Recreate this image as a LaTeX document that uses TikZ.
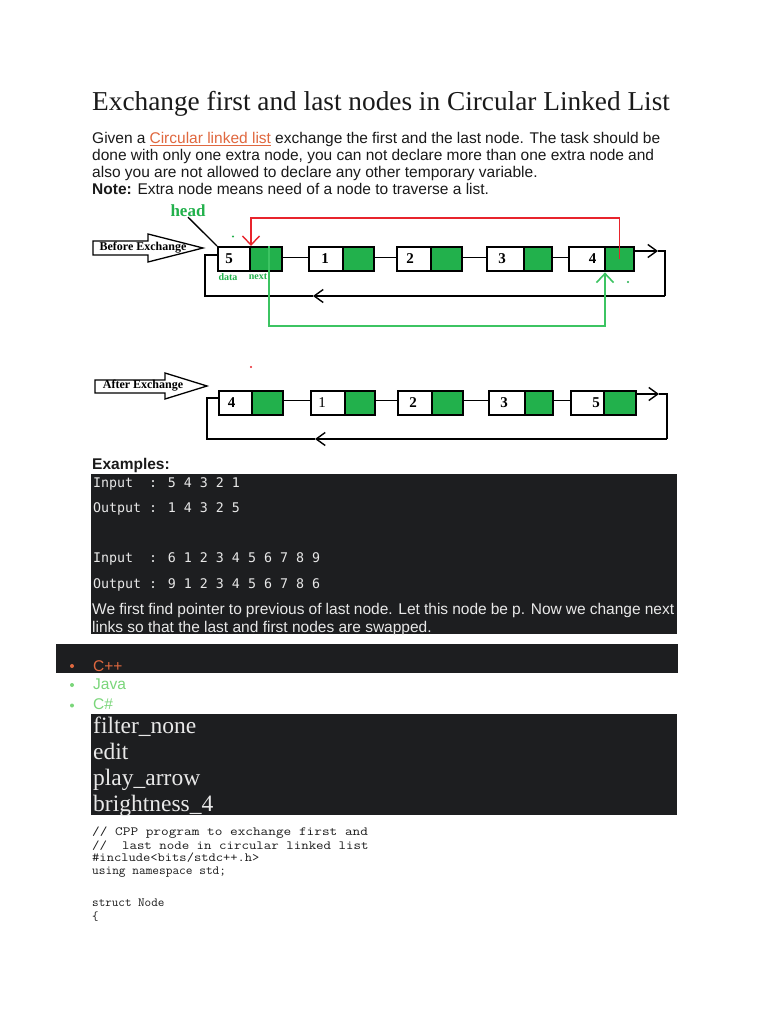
\documentclass[tikz,border=0pt]{standalone}
\usepackage{fontspec}
\setmainfont{Liberation Serif}
\setsansfont{Liberation Sans}
\newfontfamily\djmono{DejaVu Sans Mono}
\usetikzlibrary{arrows.meta}
\definecolor{pgreen}{HTML}{22B14C}
\definecolor{lgreen}{HTML}{3CC462}
\definecolor{pred}{HTML}{E8242C}
\definecolor{darkbg}{HTML}{1D1E20}
\definecolor{boxtxt}{HTML}{E8E8E8}
\definecolor{linkc}{HTML}{E0683F}
\definecolor{bulgreen}{HTML}{7AD67A}
\definecolor{bodytxt}{HTML}{1A1A1A}
\newcommand\lnode[6]{%
  \node[cellw, minimum width={(#3-#2)*1pt}, minimum height={#6*1pt}] (#1d) at (#2,#5) {};
  \node[cellg, minimum width={(#4-#3)*1pt}, minimum height={#6*1pt}] (#1n) at (#3,#5) {};
}
\begin{document}
\begin{tikzpicture}[x=1pt,y=-1pt,
  cellw/.style={draw=black, line width=2.4pt, fill=white, inner sep=0pt, anchor=north west},
  cellg/.style={cellw, fill=pgreen},
  link/.style={draw=black, line width=1.4pt},
  tipb/.style={-{Straight Barb[length=9pt,width=13pt]}},
  num/.style={font=\bfseries\fontsize{15}{15}\selectfont, inner sep=0pt},
  numr/.style={font=\fontsize{15}{15}\selectfont, inner sep=0pt},
  body/.style={font=\sffamily\fontsize{15.5}{17}\selectfont, inner sep=0pt, anchor=base west, text=bodytxt},
  boxt/.style={body, text=boxtxt},
  mono/.style={font=\djmono\fontsize{13.3}{15}\selectfont, inner sep=0pt, anchor=base west, text=boxtxt},
  icon/.style={font=\fontsize{23.5}{25}\selectfont, inner sep=0pt, anchor=base west, text=boxtxt},
  code/.style={font=\ttfamily\fontsize{12.5}{13}\selectfont, inner sep=0pt, anchor=base west, text=bodytxt},
  hollow/.style={draw=black, line width=1.3pt, fill=white},
  hlab/.style={font=\bfseries\fontsize{12}{12}\selectfont, inner sep=0pt},
  glab/.style={font=\bfseries\fontsize{10}{10}\selectfont, inner sep=0pt, text=pgreen},
]
\useasboundingbox (0,0) rectangle (768,1024);
\fill[white] (0,0) rectangle (768,1024);

% ---------- title and intro ----------
\node[anchor=base west, inner sep=0pt, font=\fontsize{27.3}{28}\selectfont, text=bodytxt] (title) at (92,111) {Exchange first and last nodes in Circular Linked List};
\node[body] (l1) at (92,144) {\makebox[568pt][s]{Given a \textcolor{linkc}{\underline{Circular linked list}} exchange the first and the last node. The task should be}};
\node[body] (l2) at (92,161) {\makebox[562pt][s]{done with only one extra node, you can not declare more than one extra node and}};
\node[body] (l3) at (92,177.5) {also you are not allowed to declare any other temporary variable.};
\node[body] (l4) at (92,194.5) {\textbf{Note:} Extra node means need of a node to traverse a list.};

% ---------- before exchange ----------
\draw[hollow] (93,241) -- (148,241) -- (148,234) -- (203,248) -- (148,262) -- (148,255) -- (93,255) -- cycle;
\node[hlab] (bex) at (143,248) {Before Exchange};

\coordinate (bt) at (658,251);
\coordinate (bc1) at (665,251);
\coordinate (bc2) at (665,296);
\coordinate (bm) at (313,296);
\coordinate (bc3) at (205,296);
\coordinate (bc4) at (205,255);

\lnode{bA}{217}{249}{281}{246}{24}
\lnode{bB}{308}{342}{373}{246}{24}
\lnode{bC}{396}{430}{461}{246}{24}
\lnode{bD}{486}{523}{551}{246}{24}
\lnode{bE}{568}{604}{633}{246}{24}

\draw[link] ([yshift=2pt]bAn.east) -- ([yshift=2pt]bBd.west);
\draw[link] ([yshift=2pt]bBn.east) -- ([yshift=2pt]bCd.west);
\draw[link] ([yshift=2pt]bCn.east) -- ([yshift=2pt]bDd.west);
\draw[link] ([yshift=2pt]bDn.east) -- ([yshift=2pt]bEd.west);
\draw[link, tipb] (bEn.east|-bt) -- (bt);
\draw[link] (bt) -- (bc1) -- (bc2);
\draw[link, tipb] (bc2) -- (bm);
\draw[link] (bm) -- (bc3) -- (bc4) -- (bAd.west|-bc4);

\node[num] (bAt) at (229,259) {5};
\node[num] (bBt) at (325,259) {1};
\node[num] (bCt) at (410,259) {2};
\node[num] (bDt) at (502,259) {3};
\node[num] (bEt) at (592.5,259) {4};

\node[font=\bfseries\fontsize{17}{17}\selectfont, text=pgreen, inner sep=0pt] (head) at (188,211) {head};
\draw[line width=1.3pt] (head.south) -- (bAd.north west);
\node[glab] (dlab) at (228,277) {data};
\node[glab] (nlab) at (258,277) {next};

\coordinate (rtop) at (251,218);
\draw[pred, line width=1.4pt, -{Straight Barb[length=9pt,width=17pt]}] (bEn.center) |- (rtop) -- ([xshift=2pt]bAn.north west);
\coordinate (g1) at (269,326);
\draw[lgreen, line width=1.6pt, -{Straight Barb[length=9pt,width=17pt]}] ([xshift=20pt]bAn.north west) -- (g1) -| ([xshift=1pt]bEn.south west);

\fill[pgreen] (233,236.5) circle (1.1);
\fill[pgreen] (628,282) circle (1.1);
\fill[pred] (251,367) circle (1.1);

% ---------- after exchange ----------
\draw[hollow] (95,380) -- (165,380) -- (165,373) -- (207,386) -- (165,399) -- (165,393) -- (95,393) -- cycle;
\node[hlab] (aex) at (143,386) {After Exchange};

\coordinate (at) at (659,394);
\coordinate (ac1) at (667,394);
\coordinate (ac2) at (667,439);
\coordinate (am) at (315,439);
\coordinate (ac3) at (207,439);
\coordinate (ac4) at (207,398);

\lnode{aA}{218}{251}{282}{390}{24}
\lnode{aB}{310}{344}{374}{390}{24}
\lnode{aC}{397}{431}{462}{390}{24}
\lnode{aD}{488}{524}{552}{390}{24}
\lnode{aE}{570}{603}{635}{390}{24}

\draw[link] ([yshift=3pt]aAn.east) -- ([yshift=3pt]aBd.west);
\draw[link] ([yshift=3pt]aBn.east) -- ([yshift=3pt]aCd.west);
\draw[link] ([yshift=3pt]aCn.east) -- ([yshift=3pt]aDd.west);
\draw[link] ([yshift=3pt]aDn.east) -- ([yshift=3pt]aEd.west);
\draw[link, tipb] (aEn.east|-at) -- (at);
\draw[link] (at) -- (ac1) -- (ac2);
\draw[link, tipb] (ac2) -- (am);
\draw[link] (am) -- (ac3) -- (ac4) -- (aAd.west|-ac4);

\node[num] (aAt) at (231.5,403) {4};
\node[numr] (aBt) at (322,403) {1};
\node[num] (aCt) at (413,403) {2};
\node[num] (aDt) at (504,403) {3};
\node[num] (aEt) at (596,403) {5};

% ---------- examples ----------
\node[body] (exh) at (92,469.5) {\textbf{Examples:}};
\fill[darkbg] (91,474) rectangle (677,634);
\node[mono] (e1) at (93,487) {Input\ \ : 5 4 3 2 1};
\node[mono] (e2) at (93,512) {Output : 1 4 3 2 5};
\node[mono] (e3) at (93,562) {Input\ \ : 6 1 2 3 4 5 6 7 8 9};
\node[mono] (e4) at (93,588) {Output : 9 1 2 3 4 5 6 7 8 6};
\node[boxt] (e5) at (92,614) {\makebox[582pt][s]{We first find pointer to previous of last node. Let this node be p. Now we change next}};
\node[boxt] (e6) at (92,632) {links so that the last and first nodes are swapped.};

% ---------- language tabs ----------
\fill[darkbg] (56,644) rectangle (678,673);
\fill[linkc] (72,666) circle (2);
\node[body, text=linkc] (cpp) at (93,671) {C++};
\fill[bulgreen] (72,685) circle (2);
\node[body, text=bulgreen] (java) at (93,689) {Java};
\fill[bulgreen] (72,705.5) circle (2);
\node[body, text=bulgreen] (cs) at (93,709) {C\#};

\fill[darkbg] (91,714) rectangle (677,815);
\node[icon] (i1) at (93,733) {filter\_none};
\node[icon] (i2) at (93,759) {edit};
\node[icon] (i3) at (93,785) {play\_arrow};
\node[icon] (i4) at (93,811) {brightness\_4};

% ---------- code ----------
\node[code] (c1) at (92,835) {\scalebox{1.19}[1]{//\ CPP program to exchange first and}};
\node[code] (c2) at (92,849) {\scalebox{1.16}[1]{//\ \ last node in circular linked list}};
\node[code] (c3) at (92,861.5) {\scalebox{1.13}[1]{\#include<bits/stdc++.h>}};
\node[code] (c4) at (92,874) {\scalebox{1.04}[1]{using namespace std;}};
\node[code] (c5) at (92,906) {\scalebox{1.02}[1]{struct Node}};
\node[code] (c6) at (92,920) {\{};
\end{tikzpicture}
\end{document}
